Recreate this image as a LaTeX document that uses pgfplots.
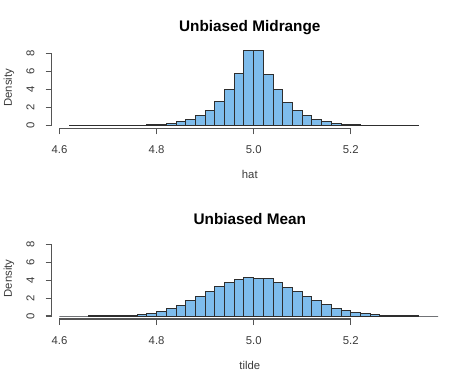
\documentclass[border=0pt]{standalone}
\usepackage{pgfplots}
\pgfplotsset{compat=1.18}
\usepackage{pgfplotstable}
\usepackage{fontspec}
\setmainfont{Liberation Sans}
\definecolor{barfill}{HTML}{7EBCEC}
\definecolor{barline}{HTML}{2E2E2E}
\definecolor{axcol}{HTML}{555555}
\definecolor{txtcol}{HTML}{3A3A3A}

\pgfplotstableread{
x y
4.62 0
4.64 0
4.66 0
4.68 0
4.70 0
4.72 0
4.74 0
4.76 0.01
4.78 0.04
4.80 0.11
4.82 0.22
4.84 0.40
4.86 0.65
4.88 1.07
4.90 1.70
4.92 2.63
4.94 4.00
4.96 5.75
4.98 8.37
5.00 8.37
5.02 5.70
5.04 3.97
5.06 2.57
5.08 1.70
5.10 1.08
5.12 0.69
5.14 0.41
5.16 0.24
5.18 0.13
5.20 0.06
5.22 0.02
5.24 0
5.26 0
5.28 0
5.30 0
5.32 0
5.34 0
}\hattable

\pgfplotstableread{
x y
4.60 0
4.62 0
4.64 0
4.66 0.01
4.68 0.02
4.70 0.02
4.72 0.04
4.74 0.09
4.76 0.17
4.78 0.28
4.80 0.52
4.82 0.82
4.84 1.22
4.86 1.70
4.88 2.15
4.90 2.70
4.92 3.30
4.94 3.78
4.96 4.08
4.98 4.31
5.00 4.24
5.02 4.16
5.04 3.72
5.06 3.23
5.08 2.71
5.10 2.16
5.12 1.71
5.14 1.23
5.16 0.85
5.18 0.60
5.20 0.38
5.22 0.24
5.24 0.14
5.26 0.06
5.28 0.03
5.30 0.02
5.32 0.01
5.34 0
5.36 0
5.38 0
}\tildetable

\pgfplotsset{
  rstyle/.style={
    scale only axis,
    width=297.15pt, height=60.75pt,
    xmin=4.584, xmax=5.40,
    ymin=-0.335, ymax=8.705,
    axis lines*=left,
    axis line style={draw=none},
    clip=false,
    tick align=outside,
    major tick length=4.5pt,
    tick style={axcol, line width=0.8pt},
    xtick={4.6,4.8,5.0,5.2},
    xticklabels={4.6,4.8,5.0,5.2},
    ytick={0,2,4,6,8},
    yticklabels={0,2,4,6,8},
    ticklabel style={font=\fontsize{8.5}{10}\selectfont, text=txtcol},
    xticklabel style={anchor=center, yshift=-11.5pt},
    yticklabel style={rotate=90, anchor=center, yshift=11.5pt},
    xlabel style={at={(axis description cs:0.5,0)}, anchor=center, yshift=-34.5pt, font=\fontsize{8.5}{10}\selectfont, text=txtcol},
    ylabel style={at={(axis description cs:0,0.5)}, anchor=center, yshift=32pt, font=\fontsize{8.5}{10}\selectfont, text=txtcol},
    title style={at={(axis description cs:0.5,1)}, anchor=center, yshift=8.5pt, font=\fontsize{11.5}{13}\selectfont\bfseries},
    ylabel={Density},
  },
}

\begin{document}
\begin{tikzpicture}
\useasboundingbox (0,0) rectangle (355.5pt,287.25pt);
\begin{axis}[rstyle, at={(38.78pt,191.0pt)}, anchor=south west,
  title={Unbiased Midrange}, xlabel={hat}]
  \addplot[ybar interval, fill=barfill, draw=barline, line width=0.75pt] table[x=x,y=y] {\hattable};
  \draw[axcol, line width=0.8pt] (axis cs:4.6,-0.335) -- (axis cs:5.2,-0.335);
  \draw[axcol, line width=0.8pt] (axis cs:4.584,0) -- (axis cs:4.584,8);
\end{axis}
\begin{axis}[rstyle, at={(38.78pt,48.0pt)}, anchor=south west,
  title={Unbiased Mean}, xlabel={tilde}]
  \addplot[ybar interval, fill=barfill, draw=barline, line width=0.75pt] table[x=x,y=y] {\tildetable};
  \draw[axcol, line width=0.8pt] (axis cs:4.6,-0.335) -- (axis cs:5.2,-0.335);
  \draw[axcol, line width=0.8pt] (axis cs:4.584,0) -- (axis cs:4.584,8);
\end{axis}
\end{tikzpicture}
\end{document}
